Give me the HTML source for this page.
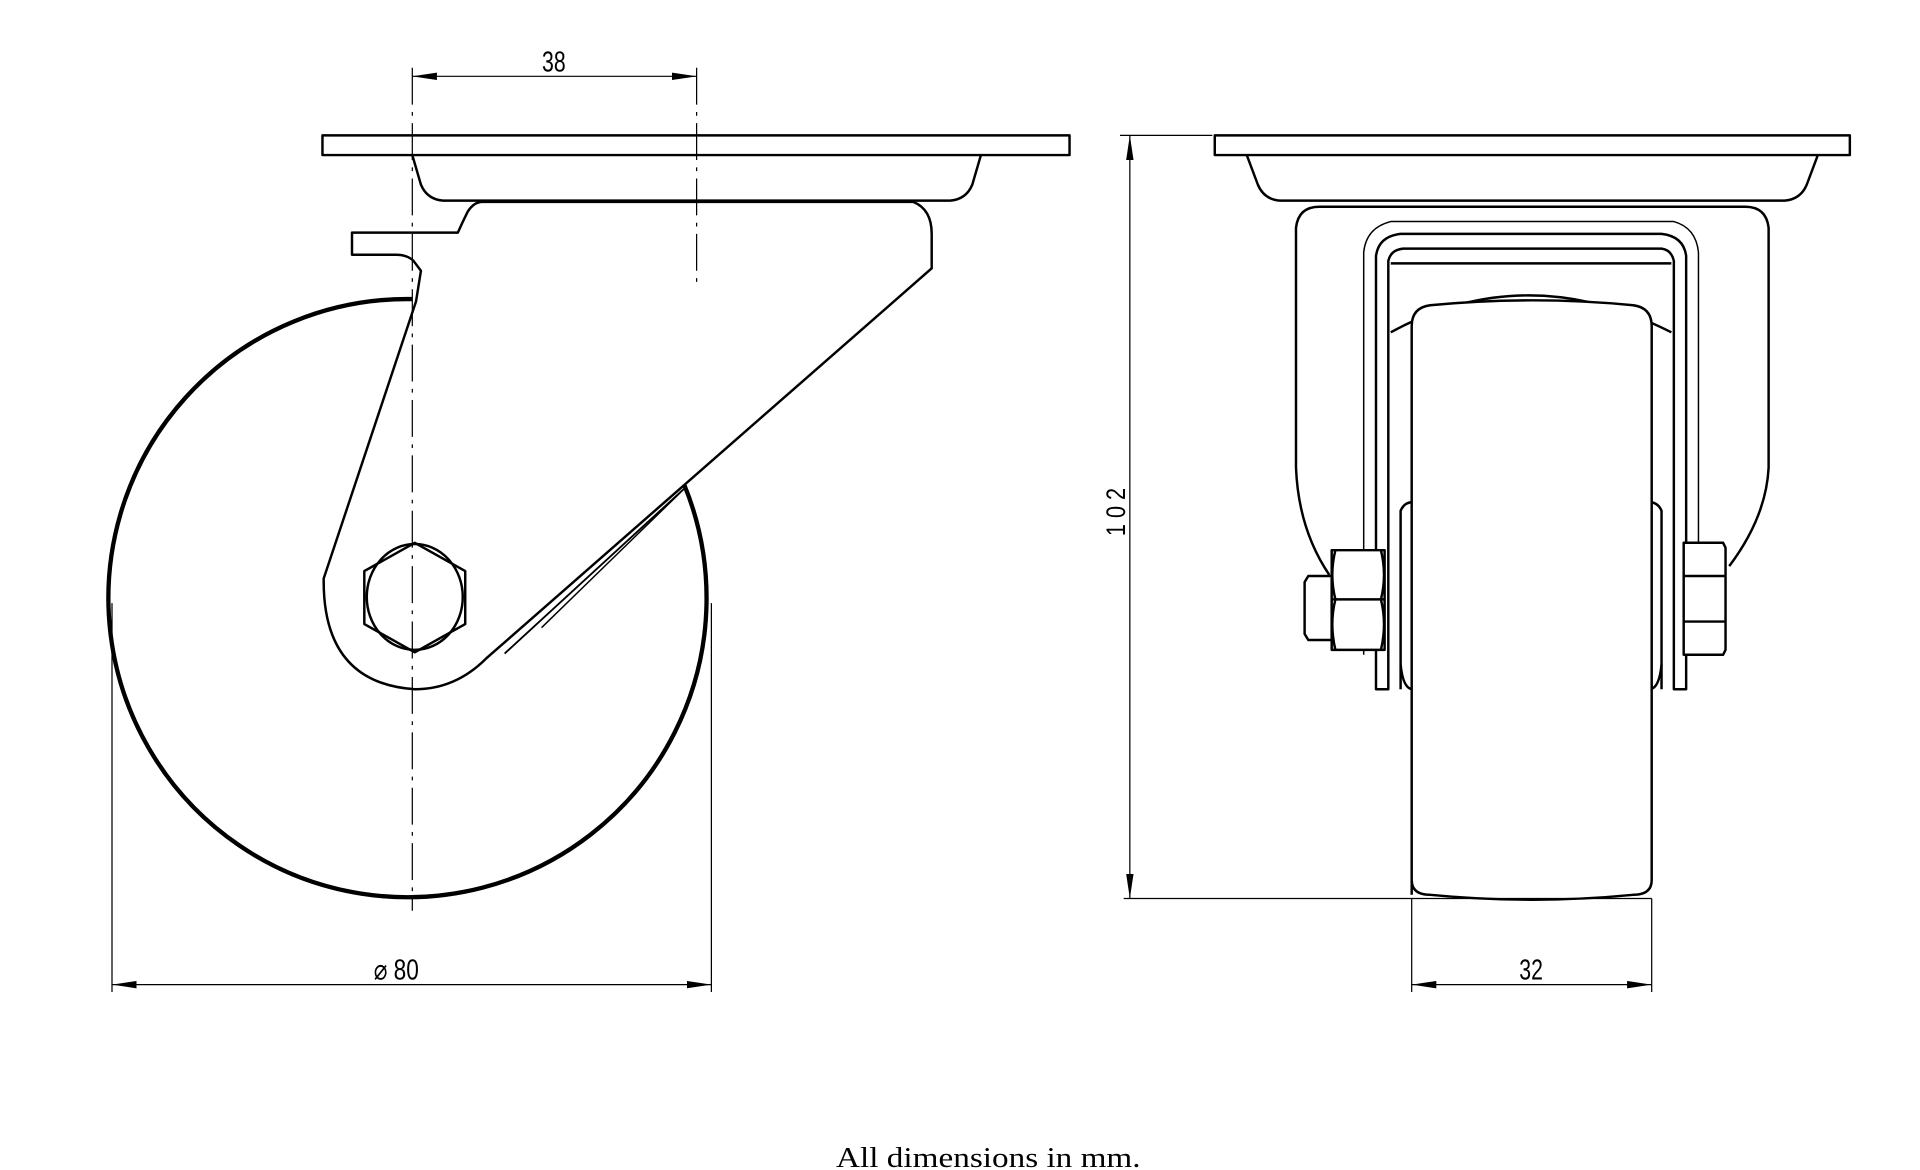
<!DOCTYPE html>
<html><head><meta charset="utf-8"><style>
html,body{margin:0;padding:0;background:#fff;}
svg{display:block;}
text{font-family:"Liberation Sans",sans-serif;fill:#000;}
</style></head><body>
<svg width="1920" height="1170" viewBox="0 0 1560 950.6" preserveAspectRatio="none" xmlns="http://www.w3.org/2000/svg">
<defs>
<marker id="a" viewBox="0 0 20 6" refX="20" refY="3" markerWidth="20" markerHeight="6" markerUnits="userSpaceOnUse" orient="auto-start-reverse"><path d="M0 0 L20 3 L0 6 Z" fill="#000"/></marker>
</defs>
<g fill="none" stroke="#000" stroke-width="2" stroke-linejoin="round">
<path d="M335 243 A243 243 0 1 0 556 394" stroke-width="3.5"/>
<rect x="262" y="110" width="607" height="16"/>
<path d="M335 126 L342 150 Q347 162 360 163 L772 163 Q785 162 790 150 L797 126"/>
<path d="M392 164 L742 164 Q757 170 757 190 L757 218 L395 535 Q370 560 337 560 Q262 555 263 470 L338 245 L342 220 L336 212 Q331 207 322 207 L286 207 L286 189 L372 189 Q376 180 380 172 Q385 164 392 164 Z" fill="#fff"/>
<path d="M557 396 L410 531" stroke-width="1.5"/>
<path d="M553 400 L440 510" stroke-width="1.2"/>
<path d="M337 441 L378 464 L378 507 L337 530 L296 507 L296 464 Z"/>
<ellipse cx="337" cy="485" rx="39" ry="43"/>
<path d="M335 55 L335 740" stroke-width="1" stroke-dasharray="30 6 3 6"/>
<path d="M566 55 L566 235" stroke-width="1" stroke-dasharray="30 6 3 6"/>
<path d="M335 62 L566 62" stroke-width="1" marker-start="url(#a)" marker-end="url(#a)"/>
<path d="M91 490 L91 806 M578 490 L578 806" stroke-width="1"/>
<path d="M91 800 L578 800" stroke-width="1" marker-start="url(#a)" marker-end="url(#a)"/>

<rect x="987" y="110" width="516" height="16"/>
<path d="M1013 126 L1022 150 Q1027 162 1040 163 L1450 163 Q1463 162 1468 150 L1477 126"/>
<path d="M1080 467 Q1055 430 1053 380 L1053 185 Q1055 168 1072 168 L1418 168 Q1435 168 1437 185 L1437 380 Q1435 420 1405 460"/>
<path d="M1108 532 L1108 205 Q1110 185 1130 180 L1360 180 Q1378 185 1380 205 L1380 532" stroke-width="1.2"/>
<path d="M1118 560 L1118 208 Q1120 192 1138 190 L1350 190 Q1368 192 1370 208 L1370 560 L1360 560 L1360 212 Q1358 203 1350 202 L1140 202 Q1130 203 1128 212 L1128 560 Z"/>
<path d="M1130 214 L1358 214"/>
<path d="M1130 270 Q1240 210 1358 270"/>
<path d="M1138 560 L1138 415 Q1141 408 1148 408 M1350 560 L1350 415 Q1347 408 1340 408"/>
<path d="M1138 540 Q1140 560 1148 560 M1350 540 Q1348 560 1340 560"/>
<path d="M1147 727 L1147 265 Q1147 250 1162 248 Q1245 240 1327 248 Q1342 250 1342 265 L1342 715 Q1342 727 1327 727 Q1245 735 1162 727 Q1147 727 1147 715" fill="#fff"/>
<path d="M1063 468 L1082 468 L1082 520 L1063 520 L1060 515 L1060 473 Z" fill="#fff"/>
<path d="M1082 447 L1125 447 L1125 528 L1082 528 Z" fill="#fff"/>
<path d="M1082 487 L1125 487 M1085 447 Q1080 467 1085 487 Q1080 507 1085 528 M1122 447 Q1127 467 1122 487 Q1127 507 1122 528"/>
<path d="M1368 441 L1400 441 L1402 445 L1402 528 L1400 532 L1368 532 Z" fill="#fff"/>
<path d="M1368 468 L1402 468 M1368 505 L1402 505"/>
<path d="M910 110 L985 110 M913 730 L1342 730" stroke-width="1"/>
<path d="M918 110 L918 730" stroke-width="1" marker-start="url(#a)" marker-end="url(#a)"/>
<path d="M1147 730 L1147 806 M1342 730 L1342 806" stroke-width="1"/>
<path d="M1147 800 L1342 800" stroke-width="1" marker-start="url(#a)" marker-end="url(#a)"/>
</g>
<text font-size="23" text-anchor="middle" transform="translate(450 58) scale(0.75 1)">38</text>
<text font-size="23" text-anchor="middle" transform="translate(322 796) scale(0.8 1)">⌀ 80</text>
<text font-size="23" text-anchor="middle" transform="translate(1244 796) scale(0.75 1)">32</text>
<text font-size="22" text-anchor="middle" transform="translate(914 416) rotate(-90) scale(0.8 1)">1 0 2</text>
<text font-size="27" text-anchor="middle" style="font-family:'Liberation Serif',serif" transform="translate(803 948) scale(1.0 0.85)">All dimensions in mm.</text>
</svg>
</body></html>
